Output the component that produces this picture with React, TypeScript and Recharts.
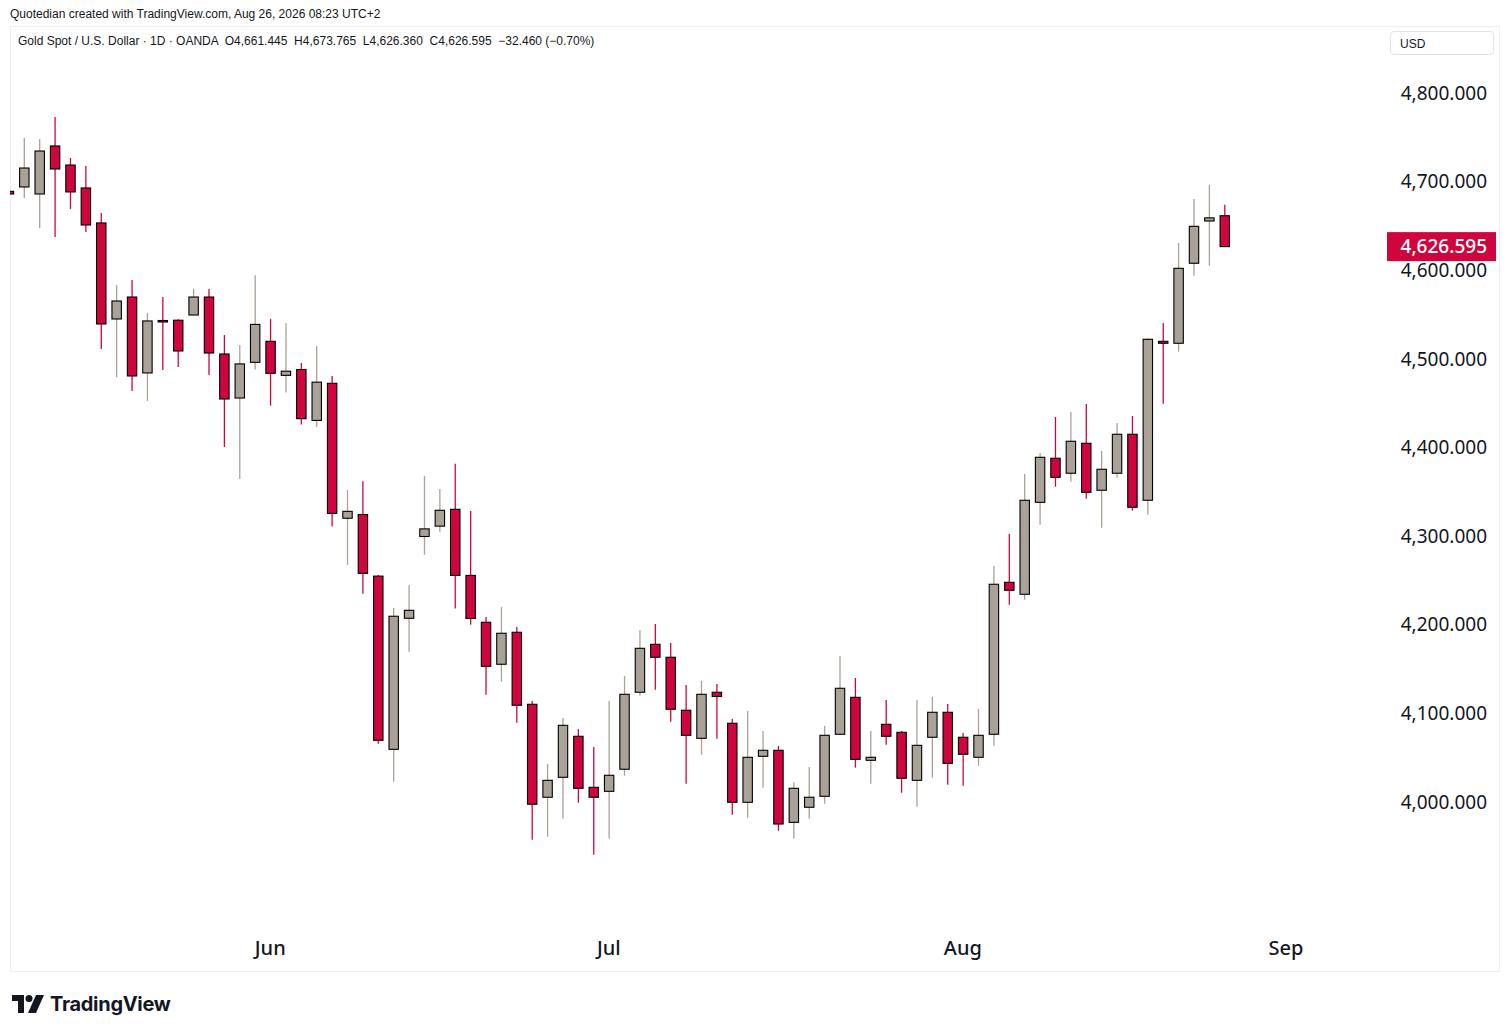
import { Bar, ComposedChart, XAxis, YAxis } from "recharts";

// Gold spot daily candles, May 7 -> Aug 26 2026 (OANDA)
const DATES = [
  "05-07", "05-08", "05-11", "05-12", "05-13", "05-14", "05-15", "05-18", "05-19", "05-20",
  "05-21", "05-22", "05-25", "05-26", "05-27", "05-28", "05-29", "06-01", "06-02", "06-03",
  "06-04", "06-05", "06-08", "06-09", "06-10", "06-11", "06-12", "06-15", "06-16", "06-17",
  "06-18", "06-19", "06-22", "06-23", "06-24", "06-25", "06-26", "06-29", "06-30", "07-01",
  "07-02", "07-03", "07-06", "07-07", "07-08", "07-09", "07-10", "07-13", "07-14", "07-15",
  "07-16", "07-17", "07-20", "07-21", "07-22", "07-23", "07-24", "07-27", "07-28", "07-29",
  "07-30", "07-31", "08-03", "08-04", "08-05", "08-06", "08-07", "08-10", "08-11", "08-12",
  "08-13", "08-14", "08-17", "08-18", "08-19", "08-20", "08-21", "08-24", "08-25", "08-26",
];

const OPEN = [
  4689, 4693.9, 4686.0, 4740.2, 4718.7, 4692.8, 4653.3, 4544.9, 4569.7, 4484.0,
  4543.2, 4543.5, 4549.4, 4569.7, 4505.4, 4455.7, 4496.0, 4519.7, 4481.3, 4487.9,
  4430.4, 4472.3, 4320.0, 4324.2, 4254.7, 4059.2, 4207.1, 4299.4, 4311.1, 4330.1,
  4255.5, 4202.6, 4155.2, 4191.3, 4110.0, 4005.1, 4027.6, 4073.9, 4016.3, 4011.8,
  4036.7, 4123.6, 4177.7, 4163.1, 4103.3, 4071.6, 4123.6, 4088.6, 3999.4, 4051.3,
  4058.1, 3976.8, 3993.8, 4006.2, 4076.2, 4117.9, 4046.8, 4087.4, 4078.4, 4024.2,
  4072.8, 4101.0, 4072.8, 4050.2, 4076.2, 4247.7, 4234.2, 4338.0, 4387.7, 4370.8,
  4404.6, 4351.6, 4370.8, 4414.8, 4340.3, 4519.7, 4517.5, 4607.8, 4655.5, 4661.445,
];

const HIGH = [
  4691, 4749.2, 4748.1, 4772.9, 4726.6, 4717.6, 4664.6, 4583.3, 4588.9, 4551.7,
  4569.7, 4544.5, 4578.8, 4578.8, 4526.9, 4515.6, 4594.3, 4545.0, 4540.4, 4495.3,
  4514.3, 4480.6, 4351.9, 4361.9, 4255.9, 4218.7, 4244.7, 4367.8, 4353.0, 4381.4,
  4328.2, 4208.6, 4219.8, 4197.3, 4113.8, 4042.6, 4094.6, 4082.1, 4061.8, 4113.8,
  4142.0, 4193.9, 4200.7, 4179.2, 4131.8, 4136.3, 4132.9, 4093.4, 4102.5, 4079.9,
  4063.0, 4022.0, 4039.3, 4085.5, 4164.5, 4139.7, 4079.9, 4114.9, 4079.9, 4114.9,
  4118.3, 4110.4, 4077.6, 4104.7, 4266.1, 4302.2, 4370.0, 4393.7, 4434.3, 4439.9,
  4449.0, 4395.9, 4427.5, 4435.4, 4523.1, 4540.4, 4630.7, 4680.4, 4696.2, 4673.765,
];

const LOW = [
  4685, 4681.5, 4647.6, 4637.5, 4669.1, 4643.1, 4511.1, 4479.4, 4463.6, 4452.4,
  4487.3, 4490.7, 4548.9, 4481.7, 4400.4, 4364.3, 4487.9, 4447.1, 4461.8, 4425.7,
  4423.0, 4310.7, 4267.5, 4234.9, 4065.6, 4022.7, 4169.4, 4278.8, 4304.8, 4218.2,
  4199.9, 4120.9, 4135.5, 4089.3, 3957.2, 3960.6, 3980.9, 3999.0, 3940.3, 3958.3,
  4029.4, 4119.7, 4126.5, 4090.4, 4020.4, 4053.1, 4071.2, 3985.4, 3982.0, 4015.9,
  3967.4, 3958.3, 3980.9, 3997.8, 4075.8, 4038.5, 4020.4, 4064.4, 4010.2, 3994.5,
  4027.2, 4019.3, 4018.2, 4040.7, 4063.3, 4222.4, 4228.1, 4312.7, 4355.6, 4361.3,
  4342.1, 4309.4, 4365.8, 4328.5, 4324.0, 4449.3, 4508.0, 4593.8, 4605.1, 4626.36,
];

const CLOSE = [
  4686, 4715.3, 4734.5, 4714.2, 4688.3, 4651.0, 4539.3, 4565.2, 4480.6, 4542.7,
  4542.1, 4508.8, 4569.7, 4506.5, 4454.6, 4494.2, 4538.8, 4483.6, 4486.0, 4432.4,
  4473.6, 4325.5, 4327.8, 4257.8, 4069.4, 4209.4, 4216.1, 4308.0, 4329.0, 4255.5,
  4206.9, 4152.9, 4190.2, 4108.9, 3997.2, 4024.2, 4086.3, 4015.2, 4005.1, 4029.9,
  4121.3, 4173.2, 4163.1, 4104.4, 4075.0, 4121.3, 4118.8, 3999.4, 4050.2, 4058.1,
  3974.9, 4015.2, 4005.1, 4075.0, 4128.1, 4047.9, 4050.2, 4073.9, 4026.5, 4063.7,
  4101.0, 4043.4, 4053.6, 4075.0, 4245.5, 4238.7, 4340.3, 4388.8, 4366.2, 4406.9,
  4349.3, 4375.3, 4414.8, 4332.4, 4522.0, 4517.5, 4602.1, 4649.5, 4659.055, 4626.595,
];

const MONTH_TICKS = [17, 39, 62, 83];
const MONTH_LABELS = ["Jun", "Jul", "Aug", "Sep"];
const PRICE_TICKS = [4000, 4100, 4200, 4300, 4400, 4500, 4600, 4700, 4800];
const LAST_CLOSE = 4626.595;

const UP = "#aaa197";
const DOWN = "#cf063d";
const TEXT = "#131722";

const data = DATES.map((d, i) => ({
  i,
  date: d,
  open: OPEN[i],
  high: HIGH[i],
  low: LOW[i],
  close: CLOSE[i],
  range: [LOW[i], HIGH[i]],
}));

const fmtPrice = (v: number) =>
  v.toLocaleString("en-US", { minimumFractionDigits: 3, maximumFractionDigits: 3 });

function Candle(props: any) {
  const { x, y, width, height, payload } = props;
  const { open, close, high, low } = payload;
  const top = Math.min(y, y + height);
  const h = Math.abs(height);
  const k = h / (high - low);
  const yOf = (v: number) => top + (high - v) * k;
  const cx = x + width / 2;
  const color = close >= open ? UP : DOWN;
  const bTop = yOf(Math.max(open, close));
  const bH = Math.max(yOf(Math.min(open, close)) - bTop, 1.5);
  return (
    <g>
      <line x1={cx} x2={cx} y1={top} y2={top + h} stroke={color} strokeWidth={1.3} />
      <rect x={cx - 4.7} y={bTop} width={9.4} height={bH} fill={color} stroke="#000" strokeWidth={1.1} />
    </g>
  );
}

function PriceTick(props: any) {
  const { y, payload } = props;
  const v = payload.value;
  if (v === LAST_CLOSE) {
    return (
      <g>
        <rect x={1377} y={y - 14.5} width={109} height={29} fill={DOWN} />
        <text x={1477} y={y} dy="0.36em" textAnchor="end" fill="#fff" fontSize={19} fontWeight={500} fontFamily="Noto Sans">
          {fmtPrice(v)}
        </text>
      </g>
    );
  }
  return (
    <text x={1477} y={y} dy="0.36em" textAnchor="end" fill={TEXT} fontSize={19} fontFamily="Noto Sans">
      {fmtPrice(v)}
    </text>
  );
}

function Logo() {
  return (
    <svg width="32" height="18" viewBox="0 0 32 18">
      <path d="M0 0h12v18H6V6H0z" fill="#131722" />
      <circle cx="17" cy="3.5" r="3.5" fill="#131722" />
      <path d="M24 0h8l-8 18h-8z" fill="#131722" />
    </svg>
  );
}

export default function App() {
  return (
    <div style={{ position: "absolute", left: 0, top: 0, width: 1510, height: 1032, background: "#fff", fontFamily: "Noto Sans" }}>
      <div style={{ position: "absolute", left: 10, top: 7, fontSize: 12, color: TEXT, fontFamily: "Liberation Sans" }}>
        Quotedian created with TradingView.com, Aug 26, 2026 08:23 UTC+2
      </div>
      <div style={{ position: "absolute", left: 10, top: 26, width: 1488, height: 944, border: "1px solid #eceef2" }} />
      <div style={{ position: "absolute", left: 10, top: 26 }}>
        <ComposedChart width={1490} height={946} data={data} margin={{ top: 0, right: 0, bottom: 0, left: 0 }}>
          <XAxis
            type="number"
            dataKey="i"
            domain={[0.09, 89.56]}
            allowDataOverflow
            ticks={MONTH_TICKS}
            interval={0}
            tickFormatter={(v) => MONTH_LABELS[MONTH_TICKS.indexOf(v)] ?? ""}
            axisLine={false}
            tickLine={false}
            tickSize={0}
            tickMargin={5}
            height={36}
            tick={{ fill: TEXT, fontSize: 20, fontWeight: 500, fontFamily: "Noto Sans" }}
          />
          <YAxis
            orientation="right"
            domain={[3848.5, 4875.6]}
            allowDataOverflow
            ticks={[...PRICE_TICKS, LAST_CLOSE]}
            interval={0}
            width={113}
            axisLine={false}
            tickLine={false}
            tick={<PriceTick />}
          />
          <Bar dataKey="range" barSize={10} shape={<Candle />} isAnimationActive={false} />
        </ComposedChart>
      </div>
      <div style={{ position: "absolute", left: 18, top: 34, fontSize: 12, color: TEXT, fontFamily: "Liberation Sans", whiteSpace: "pre" }}>
        {"Gold Spot / U.S. Dollar · 1D · OANDA  O4,661.445  H4,673.765  L4,626.360  C4,626.595  −32.460 (−0.70%)"}
      </div>
      <div
        style={{
          position: "absolute",
          left: 1390,
          top: 31,
          width: 104,
          height: 24,
          border: "1px solid #e0e3eb",
          borderRadius: 4,
          fontSize: 12,
          lineHeight: "24px",
          color: TEXT,
          paddingLeft: 9,
          boxSizing: "border-box",
          fontFamily: "Liberation Sans",
        }}
      >
        USD
      </div>
      <div style={{ position: "absolute", left: 12, top: 992, display: "flex", alignItems: "center", gap: 6 }}>
        <Logo />
        <span style={{ fontFamily: "Inter", fontWeight: 700, fontSize: 20, color: TEXT, letterSpacing: -0.3 }}>TradingView</span>
      </div>
    </div>
  );
}
